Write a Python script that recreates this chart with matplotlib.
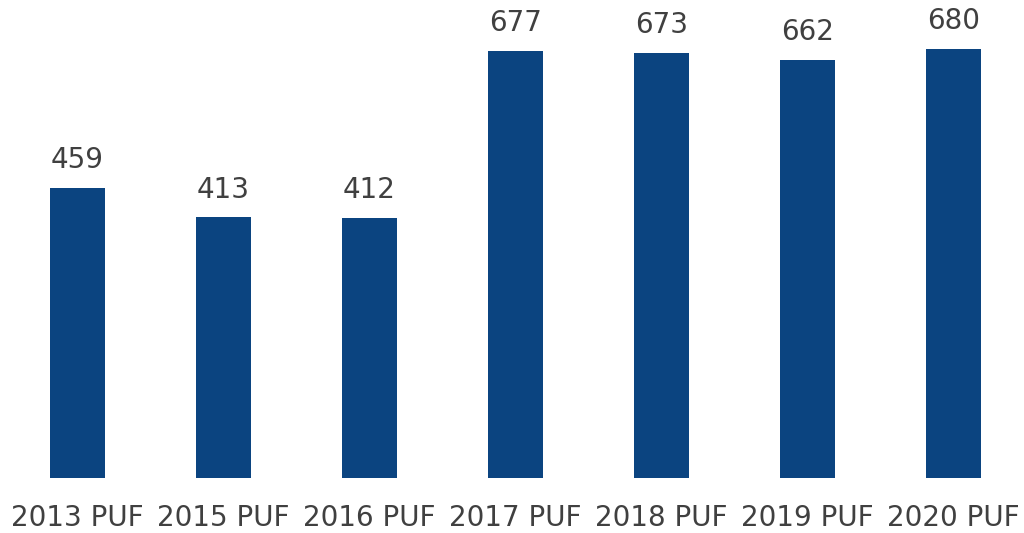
import matplotlib
matplotlib.use("Agg")
import matplotlib.pyplot as plt

categories = ["2013 PUF", "2015 PUF", "2016 PUF", "2017 PUF", "2018 PUF", "2019 PUF", "2020 PUF"]
values = [459, 413, 412, 677, 673, 662, 680]

plt.rcParams['font.family'] = ['DejaVu Sans']
fig = plt.figure(figsize=(10.24, 5.33), dpi=100)
ax = fig.add_axes([0, 55/533, 1, 478/533])
x = list(range(len(categories)))
ax.bar(x, values, width=0.377, color="#0B4480")
for xi, v in zip(x, values):
    ax.annotate(str(v), (xi, v), xytext=(0, 10), textcoords="offset points",
                ha="center", va="bottom", fontsize=20, color="#404040")
ax.set_xlim(-77.5/146, (1024-77.5)/146)
ax.set_ylim(0, 478/0.631)
ax.set_xticks(x)
ax.set_xticklabels(categories, fontsize=20, color="#404040")
ax.tick_params(axis="x", length=0, pad=19)
ax.set_yticks([])
for s in ax.spines.values():
    s.set_visible(False)
fig.savefig("out.png", dpi=100)
